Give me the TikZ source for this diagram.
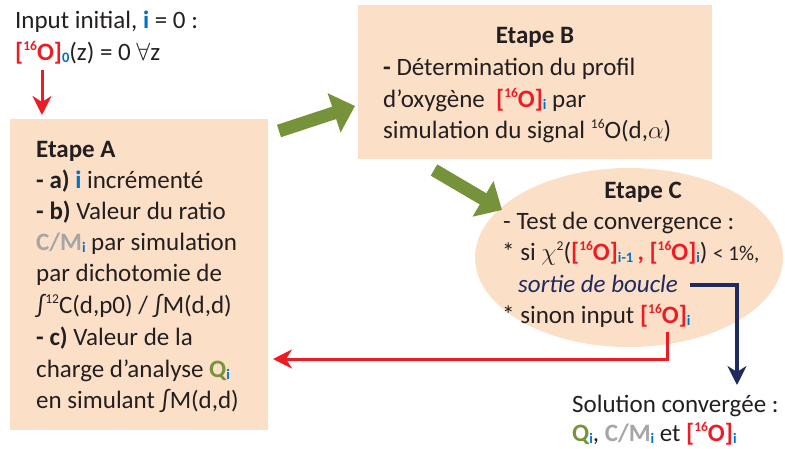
\documentclass[tikz,border=0pt]{standalone}
\usepackage{fontspec}
\setmainfont{Carlito}
\usetikzlibrary{arrows.meta}
\definecolor{boxfill}{RGB}{251,223,199}
\definecolor{cred}{RGB}{237,28,36}
\definecolor{cblue}{RGB}{0,112,192}
\definecolor{cgreen}{RGB}{119,147,60}
\definecolor{cgray}{RGB}{166,166,166}
\definecolor{cnavy}{RGB}{31,42,94}
\definecolor{ctext}{RGB}{35,31,32}
\definecolor{garrow}{RGB}{118,146,58}
\newcommand\subi[1]{\raisebox{-2pt}{\fontsize{14.5}{14.5}\selectfont\bfseries\color{cblue}#1}}
\newcommand\supx[1]{\raisebox{10pt}{\fontsize{13.5}{13.5}\selectfont #1}}
\newcommand\Ox[1]{{\color{cred}\bfseries[\supx{16}O]}\subi{#1}}
\begin{document}
\begin{tikzpicture}[x=1pt,y=-1pt,
  txt/.style={anchor=base west,inner sep=0pt,text=ctext,font=\fontsize{25}{31}\selectfont},
  ctxt/.style={txt,anchor=base},
  pbox/.style={fill=boxfill,draw=none,inner sep=0pt,anchor=north west},
  greenarrow/.style={draw=garrow,line width=13pt,-{Triangle[length=22pt,width=40pt]}},
  redarrow/.style={draw=cred,line width=3pt,-{Stealth[length=19pt,width=19pt,inset=6pt]}},
  navyarrow/.style={draw=cnavy,line width=3.5pt,-{Stealth[length=19pt,width=19pt,inset=6pt]}}]
\useasboundingbox (0,0) rectangle (785,448);

% shapes
\node[pbox,minimum width=258pt,minimum height=311pt] (A) at (10,119) {};
\node[pbox,minimum width=354pt,minimum height=154pt] (B) at (358,5) {};
\fill[boxfill] (629,257.5) ellipse [x radius=154, y radius=89.5];
\coordinate (C) at (629,257.5);

% input text
\node[txt] (in1) at (15,28) {Input initial, {\color{cblue}\bfseries i} = 0 :};
\node[txt] (in2) at (15,60) {\Ox{0}(z) = 0 $\forall$z};

% Etape A
\node[txt] (a1) at (36,157) {\bfseries Etape A};
\node[txt] (a2) at (36,188) {\textbf{- a)} {\color{cblue}\bfseries i} incrémenté};
\node[txt] (a3) at (36,219) {\textbf{- b)} Valeur du ratio};
\node[txt] (a4) at (36,250) {{\color{cgray}\bfseries C/M}\subi{i} par simulation};
\node[txt] (a5) at (36,281) {par dichotomie de};
\node[txt] (a6) at (36,313) {∫\supx{12}C(d,p0) / ∫M(d,d)};
\node[txt] (a7) at (36,345) {\textbf{- c)} Valeur de la};
\node[txt] (a8) at (36,377) {charge d’analyse {\color{cgreen}\bfseries Q}\subi{i}};
\node[txt] (a9) at (36,408) {en simulant ∫M(d,d)};

% Etape B
\node[ctxt] (b1) at (535,43) {\bfseries Etape B};
\node[txt] (b2) at (383,75) {\textbf{-} Détermination du profil};
\node[txt] (b3) at (383,107) {d’oxygène~~\Ox{i} par};
\node[txt] (b4) at (383,138) {simulation du signal \supx{16}O(d,$\alpha$)};

% Etape C
\node[ctxt] (c1) at (643,198) {\bfseries Etape C};
\node[txt] (c2) at (503,229) {- Test de convergence :};
\node[txt] (c3) at (502,260) {* si $\chi$\supx{2}(\Ox{i-1}{\color{cred}\bfseries\,,} \Ox{i}) {\fontsize{21}{21}\selectfont< 1\%,}};
\node[txt] (c4) at (518,292) {\color{cnavy}\itshape sortie de boucle};
\node[txt] (c5) at (502,323) {* sinon input \Ox{i}};

% solution
\node[txt] (s1) at (572,412) {Solution convergée :};
\node[txt] (s2) at (572,441) {{\color{cgreen}\bfseries Q}\subi{i}, {\color{cgray}\bfseries C/M}\subi{i} et \Ox{i}};

% connectors
\coordinate (t0) at (42,70);
\coordinate (t1) at (42,115);
\draw[redarrow] (t0) -- (t1);

\coordinate (g1s) at (279,131);
\coordinate (g1e) at (355,106);
\draw[greenarrow] (g1s) -- (g1e);
\coordinate (g2s) at (434,170);
\coordinate (g2e) at (502,210);
\draw[greenarrow] (g2s) -- (g2e);

\coordinate (r0) at (667,332);
\coordinate (r1) at (273,359);
\draw[redarrow] (r0) |- (r1);

\coordinate (n0) at (690,285);
\coordinate (n1) at (737,385);
\draw[navyarrow] (n0) -| (n1);
\end{tikzpicture}
\end{document}
